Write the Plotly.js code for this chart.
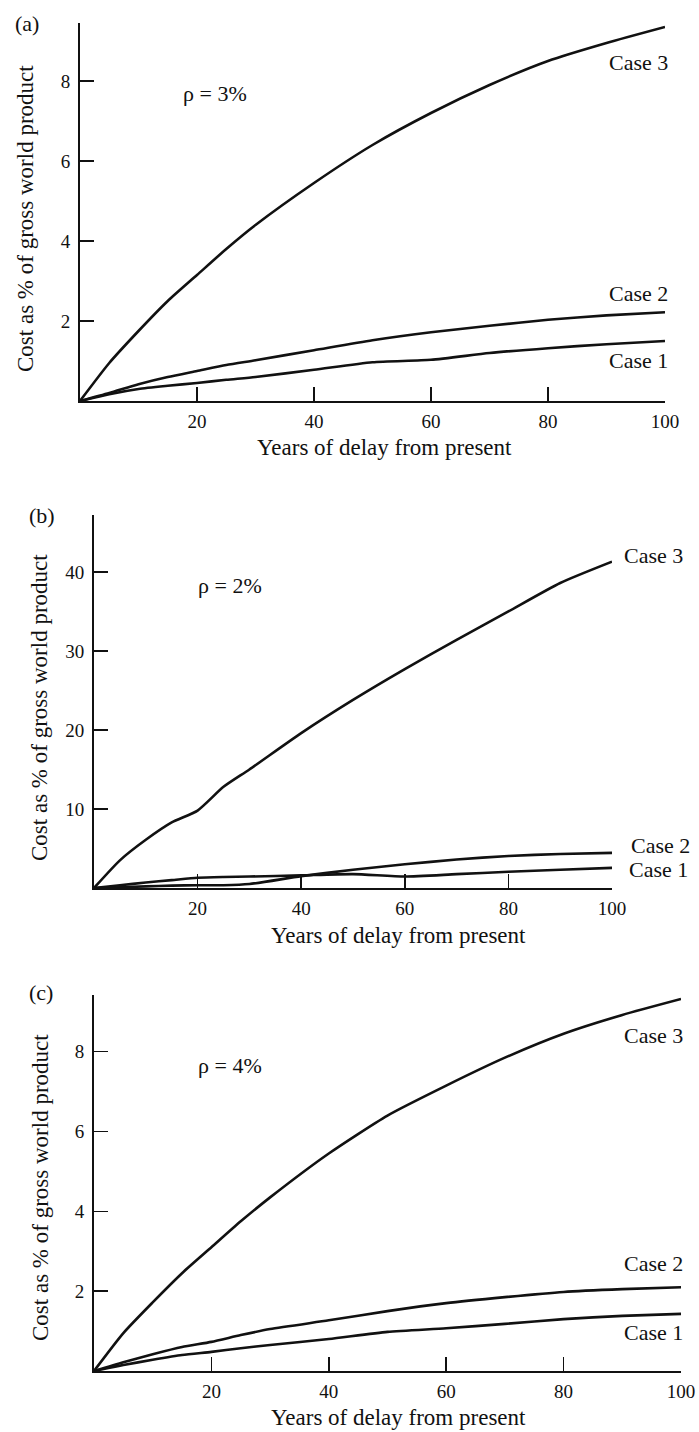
<!DOCTYPE html>
<html>
<head>
<meta charset="utf-8">
<script src="https://cdn.plot.ly/plotly-3.0.1.min.js"></script>
<style>
html,body{margin:0;padding:0;background:#fff;}
#chart{width:699px;height:1432px;}
</style>
</head>
<body>
<div id="chart"></div>
<script>
// ---- Data ----
const years = [0, 5, 10, 15, 20, 25, 30, 40, 50, 60, 70, 80, 90, 100];

// Panel (a): rho = 3%
const a_case1 = [0, 0.17, 0.30, 0.38, 0.45, 0.53, 0.60, 0.78, 0.97, 1.03, 1.20, 1.32, 1.42, 1.50];
const a_case2 = [0, 0.20, 0.42, 0.60, 0.75, 0.90, 1.02, 1.27, 1.52, 1.72, 1.88, 2.03, 2.14, 2.22];
const a_case3 = [0, 0.95, 1.75, 2.50, 3.15, 3.80, 4.40, 5.45, 6.40, 7.20, 7.90, 8.50, 8.95, 9.35];

// Panel (b): rho = 2%
const b_case1 = [0, 0.35, 0.70, 1.00, 1.30, 1.40, 1.45, 1.60, 1.75, 1.45, 1.75, 2.05, 2.30, 2.55];
const b_case2 = [0, 0.10, 0.20, 0.30, 0.35, 0.35, 0.50, 1.50, 2.30, 3.00, 3.60, 4.05, 4.30, 4.45];
const b_case3 = [0, 3.50, 6.10, 8.30, 9.80, 12.8, 15.0, 19.6, 23.8, 27.7, 31.4, 35.0, 38.6, 41.3];

// Panel (c): rho = 4%
const c_case1 = [0, 0.15, 0.28, 0.40, 0.48, 0.57, 0.65, 0.80, 0.98, 1.07, 1.18, 1.30, 1.38, 1.43];
const c_case2 = [0, 0.22, 0.42, 0.60, 0.73, 0.90, 1.05, 1.27, 1.50, 1.70, 1.85, 1.98, 2.05, 2.10];
const c_case3 = [0, 0.95, 1.72, 2.45, 3.10, 3.75, 4.35, 5.45, 6.40, 7.15, 7.85, 8.45, 8.92, 9.32];

const xTickVals = [20, 40, 60, 80, 100];
const yTickVals_a = [2, 4, 6, 8];
const yTickVals_b = [10, 20, 30, 40];
const yTickVals_c = [2, 4, 6, 8];

const panelLabels = ["(a)", "(b)", "(c)"];
const rhoLabels = ["ρ = 3%", "ρ = 2%", "ρ = 4%"];
const caseNames = ["Case 1", "Case 2", "Case 3"];
const xTitle = "Years of delay from present";
const yTitle = "Cost as % of gross world product";

// ---- Layout helpers ----
const W = 699, H = 1432;
const fx = p => p / W;
const fy = p => 1 - p / H;
const FONT = "Liberation Serif, Times New Roman, serif";

function line(x, y, xa, ya) {
  return {x: x, y: y, xaxis: xa, yaxis: ya, type: 'scatter', mode: 'lines',
    line: {color: '#111', width: 2.6, shape: 'spline', smoothing: 0.6},
    showlegend: false, hoverinfo: 'skip'};
}

const traces = [
  line(years, a_case1, 'x', 'y'), line(years, a_case2, 'x', 'y'), line(years, a_case3, 'x', 'y'),
  line(years, b_case1, 'x2', 'y2'), line(years, b_case2, 'x2', 'y2'), line(years, b_case3, 'x2', 'y2'),
  line(years, c_case1, 'x3', 'y3'), line(years, c_case2, 'x3', 'y3'), line(years, c_case3, 'x3', 'y3')
];

function xax(x0, x1, yBottom, anchor) {
  return {domain: [fx(x0), fx(x1)], range: [0, 100], anchor: anchor,
    showline: true, linecolor: '#111', linewidth: 2, showgrid: false, zeroline: false,
    ticks: 'inside', ticklen: 14, tickwidth: 1.6, tickcolor: '#111',
    tickmode: 'array', tickvals: xTickVals, ticktext: xTickVals.map(String),
    tickfont: {family: FONT, size: 19, color: '#111'}, ticklabelstandoff: 2,
    fixedrange: true};
}
function yax(yTop, yBottom, top, vals, anchor) {
  return {domain: [fy(yBottom), fy(yTop)], range: [0, top], anchor: anchor,
    showline: true, linecolor: '#111', linewidth: 2, showgrid: false, zeroline: false,
    ticks: 'inside', ticklen: 14, tickwidth: 1.6, tickcolor: '#111',
    tickmode: 'array', tickvals: vals, ticktext: vals.map(String),
    tickfont: {family: FONT, size: 19, color: '#111'}, ticklabelstandoff: 4,
    fixedrange: true};
}

function ann(text, x, y, size, angle) {
  return {text: text, xref: 'paper', yref: 'paper', x: fx(x), y: fy(y),
    xanchor: 'center', yanchor: 'middle', showarrow: false,
    textangle: angle || 0, font: {family: FONT, size: size, color: '#111'}};
}

const annotations = [
  // panel labels
  ann(panelLabels[0], 27, 23, 22), ann(panelLabels[1], 42, 515, 22), ann(panelLabels[2], 41, 992, 22),
  // rho labels
  ann(rhoLabels[0], 215, 93, 22), ann(rhoLabels[1], 230, 585, 22), ann(rhoLabels[2], 230, 1065, 22),
  // case labels (a)
  ann(caseNames[2], 638, 63, 22), ann(caseNames[1], 638, 293, 22), ann(caseNames[0], 638, 360, 22),
  // case labels (b)
  ann(caseNames[2], 653, 555, 22), ann(caseNames[1], 660, 845, 22), ann(caseNames[0], 658, 870, 22),
  // case labels (c)
  ann(caseNames[2], 653, 1035, 22), ann(caseNames[1], 653, 1263, 22), ann(caseNames[0], 653, 1332, 22),
  // x titles
  ann(xTitle, 385, 447, 23), ann(xTitle, 398, 935, 23), ann(xTitle, 398, 1417, 23),
  // y titles
  ann(yTitle, 25, 219, 23, -90), ann(yTitle, 40, 708, 23, -90), ann(yTitle, 40, 1188, 23, -90)
];

const layout = {
  width: W, height: H,
  margin: {l: 0, r: 0, t: 0, b: 0},
  paper_bgcolor: '#fff', plot_bgcolor: 'rgba(0,0,0,0)',
  showlegend: false,
  font: {family: FONT, color: '#111'},
  xaxis: xax(80, 665, 401, 'y'),
  yaxis: yax(23, 401, 9.45, yTickVals_a, 'x'),
  xaxis2: xax(94, 612, 888, 'y2'),
  yaxis2: yax(515, 888, 47.2, yTickVals_b, 'x2'),
  xaxis3: xax(94, 681, 1371, 'y3'),
  yaxis3: yax(995, 1371, 9.42, yTickVals_c, 'x3'),
  annotations: annotations
};

Plotly.newPlot('chart', traces, layout, {displayModeBar: false, staticPlot: true});
</script>
</body>
</html>
